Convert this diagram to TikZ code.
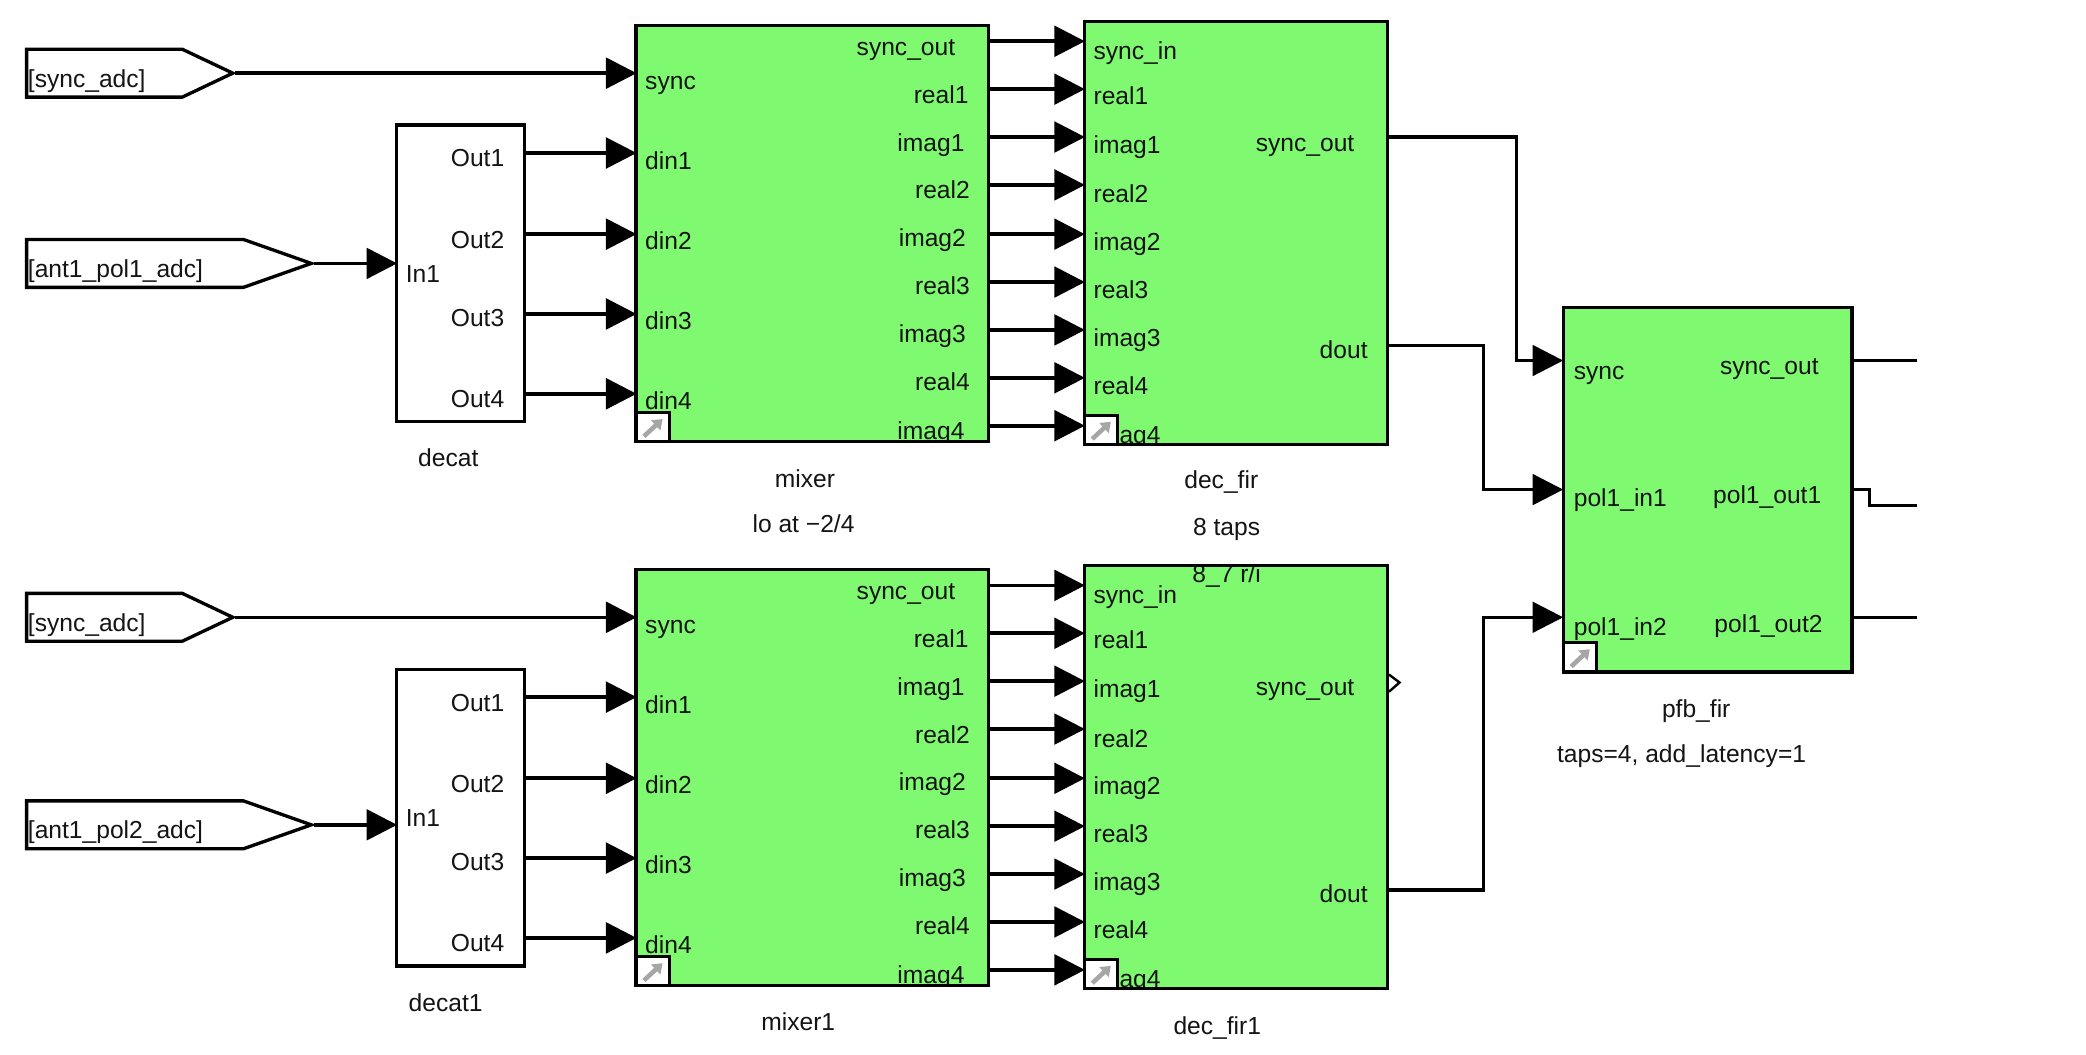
\documentclass[tikz,border=0pt]{standalone}
\usepackage{fontspec}
\setmainfont{Liberation Sans}
\usetikzlibrary{arrows.meta,calc}
\definecolor{blockgreen}{HTML}{7FF970}
\tikzset{
  x=1pt,y=-1pt,
  every node/.style={font=\fontsize{18.5}{20}\selectfont,inner sep=0pt,outer sep=0pt,text=black!92},
  txt/.style={text height=13pt,text depth=4pt,yshift=-2pt},
  portl/.style={txt,anchor=west},
  portr/.style={txt,anchor=east},
  capt/.style={txt,anchor=center},
  sig/.style={line width=2.7pt,-{Triangle[length=23pt,width=23pt]},shorten >=-0.5pt},
  wire/.style={line width=2.4pt,line join=miter},
  outline/.style={draw=black,line width=2.5pt,line join=miter,fill=none},
  linkbox/.style={draw=black,line width=2.3pt,fill=white},
  linkarrow/.style={draw=black!35,line width=3.4pt,-{Triangle[length=7pt,width=10pt]}},
}
% \greenblock{name}{x1}{y1}{x2}{y2}: green face
\newcommand{\greenblock}[5]{\fill[blockgreen] (#2,#3) rectangle (#4,#5);\coordinate (#1-nw) at (#2,#3);\coordinate (#1-se) at (#4,#5);}
% \linkmark{name}{x1}{y1}{x2}{y2}: library link badge
\newcommand{\linkmark}[5]{\draw[linkbox] (#2,#3) rectangle (#4,#5);
  \draw[linkarrow] ($(#2,#5)+(6,-4)$) -- ($(#4,#3)+(-5,5)$);}
% \mixerblock{name}{offset}
\newcommand{\mixerblock}[2]{%
  \greenblock{#1}{478}{19+#2}{743}{332+#2}
  \begin{scope}
    \clip (478,19+#2) rectangle (743,332+#2);
    \foreach \n/\t/\y in {0/sync/61,1/din1/121,2/din2/181,3/din3/241,4/din4/301}
      \node[portl] (#1-in\n) at (485,\y+#2) {\t};
    \foreach \n/\t/\y/\r in {0/sync\_out/35/718,1/real1/71/728,2/imag1/107/725,3/real2/143/729,4/imag2/179/726,5/real3/215/729,6/imag3/251/726,7/real4/287/729,8/imag4/324/725}
      \node[portr] (#1-out\n) at (\r,\y+#2) {\t};
  \end{scope}
  \linkmark{#1}{478}{310+#2}{503}{332+#2}
  \draw[outline] (478,19+#2) rectangle (743,332+#2);
  \foreach \n/\y in {0/31,1/67,2/103,3/139,4/176,5/212,6/248,7/284,8/320}
    \coordinate (#1-po\n) at (743,\y+#2);
  \foreach \n/\y in {0/55,1/115,2/176,3/236,4/296}
    \coordinate (#1-pi\n) at (478,\y+#2);
}
% \firblock{name}{offset}
\newcommand{\firblock}[2]{%
  \greenblock{#1}{815}{16+#2}{1043}{334+#2}
  \begin{scope}
    \clip (815,16+#2) rectangle (1043,334+#2);
    \foreach \n/\t/\y in {0/sync\_in/38,1/real1/72,2/imag1/109,3/real2/146,4/imag2/182,5/real3/218,6/imag3/254,7/real4/290,8/imag4/327}
      \node[portl] (#1-in\n) at (822,\y+#2) {\t};
    \node[portr] (#1-outs) at (1018,107+#2) {sync\_out};
    \node[portr] (#1-outd) at (1028,263+#2) {dout};
  \end{scope}
  \linkmark{#1}{815}{312+#2}{840}{334+#2}
  \foreach \n/\y in {0/31,1/67,2/103,3/139,4/176,5/212,6/248,7/284,8/320}
    \coordinate (#1-pi\n) at (815,\y+#2);
  \coordinate (#1-ps) at (1043,103+#2);
  \coordinate (#1-pd) at (1043,260+#2);
}
% \decatblock{name}{offset}
\newcommand{\decatblock}[2]{%
  \node[draw=black,line width=2.5pt,fill=white,minimum width=96pt,minimum height=223pt,anchor=north west] (#1) at (298,94+#2) {};
  \node[portl] (#1-in) at (305,206+#2) {In1};
  \foreach \n/\y in {1/119,2/180,3/239,4/300}
    \node[portr] (#1-out\n) at (379,\y+#2) {Out\n};
  \foreach \n/\y in {1/115,2/176,3/236,4/296}
    \coordinate (#1-po\n) at (394,\y+#2);
  \coordinate (#1-pi) at (298,200+#2);
}
\begin{document}
\begin{tikzpicture}
\useasboundingbox (0,0) rectangle (1568,793);
\fill[white] (0,0) rectangle (1568,793);

% goto tags
\foreach \nm/\top/\xs/\xt/\lab in {g1/37/137/175/{[sync\_adc]},g2/180/183/234/{[ant1\_pol1\_adc]},g3/446/137/175/{[sync\_adc]},g4/602/183/234/{[ant1\_pol2\_adc]}}{
  \draw[line width=2.5pt,fill=white,line join=miter] (20,\top) -- (\xs,\top) -- (\xt,\top+18) -- (\xs,\top+36) -- (20,\top+36) -- cycle;
  \node[portl] (\nm) at (21,\top+22) {\lab};
  \coordinate (\nm-tip) at (\xt+2,\top+18);
}

\decatblock{decat}{0}
\decatblock{decati}{409}
\mixerblock{mixer}{0}
\mixerblock{mixeri}{409}
\firblock{fir}{0}
\firblock{firi}{409}
% caption inside the lower fir, under its outline
\node[capt] (firnote3) at (922,431) {8\_7 r/i};
\draw[outline] (815,16) rectangle (1043,334);
\draw[outline] (815,425) rectangle (1043,743);

% pfb_fir
\greenblock{pfb}{1175}{231}{1392}{505}
\foreach \nm/\t/\y in {in0/sync/279,in1/pol1\_in1/374,in2/pol1\_in2/471}
  \node[portl] (pfb-\nm) at (1183,\y) {\t};
\foreach \nm/\t/\y/\r in {out0/sync\_out/275/1367,out1/pol1\_out1/372/1369,out2/pol1\_out2/469/1370}
  \node[portr] (pfb-\nm) at (\r,\y) {\t};
\linkmark{pfb}{1175}{483}{1200}{505}
\draw[outline] (1175,231) rectangle (1392,505);
\coordinate (pfb-pi0) at (1175,271);
\coordinate (pfb-pi1) at (1175,368);
\coordinate (pfb-pi2) at (1175,464);
\coordinate (pfb-po0) at (1392,271);
\coordinate (pfb-po1) at (1392,368);
\coordinate (pfb-po2) at (1392,464);
\coordinate (end0) at (1441,271);
\coordinate (end1) at (1441,380);
\coordinate (end2) at (1441,464);

% captions
\node[capt] (capdecat) at (337,344) {decat};
\node[capt] (capmixer) at (605,360) {mixer};
\node[capt] (capmixer2) at (604,394) {lo at −2/4};
\node[capt] (capfir) at (918,361) {dec\_fir};
\node[capt] (capfir2) at (922,396) {8 taps};
\node[capt] (capdecati) at (335,754) {decat1};
\node[capt] (capmixeri) at (600,768) {mixer1};
\node[capt] (capfiri) at (915,771) {dec\_fir1};
\node[capt] (cappfb) at (1275,533) {pfb\_fir};
\node[capt] (cappfb2) at (1264,567) {taps=4, add\_latency=1};

% connectors
\draw[sig] (g1-tip) -- (mixer-pi0);
\draw[sig] (g3-tip) -- (mixeri-pi0 |- g3-tip);
\draw[sig] (g2-tip) -- (decat-pi |- g2-tip);
\draw[sig] (g4-tip) -- (decati-pi |- g4-tip);
\foreach \n in {1,2,3,4}{
  \draw[sig] (decat-po\n) -- (mixer-pi\n);
  \draw[sig] (decati-po\n) -- (mixeri-pi\n);
}
\foreach \n in {0,...,8}{
  \draw[sig] (mixer-po\n) -- (fir-pi\n);
  \draw[sig] (mixeri-po\n) -- (firi-pi\n);
}
\draw[wire,-{Triangle[length=23pt,width=23pt]}] (fir-ps) -- (1140,103) -- (1140,271) -- (pfb-pi0);
\draw[wire,-{Triangle[length=23pt,width=23pt]}] (fir-pd) -- (1115,260) -- (1115,368) -- (pfb-pi1);
\draw[wire,-{Triangle[length=23pt,width=23pt]}] (firi-pd) -- (1115,669) -- (1115,464) -- (pfb-pi2);
\draw[wire] (pfb-po0) -- (end0);
\draw[wire] (pfb-po1) -- (1405,368) -- (1405,380) -- (end1);
\draw[wire] (pfb-po2) -- (end2);
% open terminator on lower sync_out
\draw[line width=1.8pt,line join=miter] (1044,507) -- (1052,513) -- (1044,520);
\end{tikzpicture}
\end{document}
